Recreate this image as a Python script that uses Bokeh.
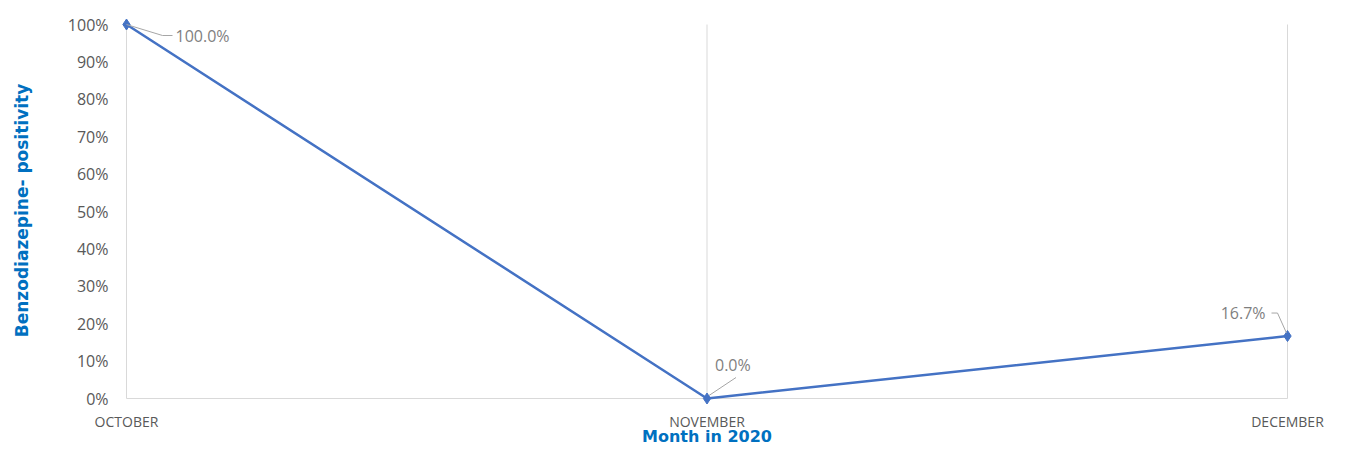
from bokeh.plotting import figure
from bokeh.models import Range1d, FixedTicker, ColumnDataSource
from bokeh.core.properties import value
from bokeh.embed import file_html
from bokeh.resources import INLINE

months = ["OCTOBER", "NOVEMBER", "DECEMBER"]
positivity = [1.0, 0.0, 0.167]
point_labels = ["100.0%", "0.0%", "16.7%"]
y_ticks = [i / 10 for i in range(11)]
y_tick_labels = [f"{i * 10}%" for i in range(11)]
x_title = "Month in 2020"
y_title = "Benzodiazepine- positivity"

xs = list(range(len(months)))

# pixel scales (style): px per data unit
PXX = 580.5
PXY = 374.0
px = 1 / PXX
py = 1 / PXY
PAD_L, PAD_R, PAD_T, PAD_B = 10, 10, 8, 6

p = figure(width=1339, height=448, output_backend="svg", toolbar_location=None,
           x_range=Range1d(xs[0] - PAD_L * px, xs[-1] + PAD_R * px),
           y_range=Range1d(0 - PAD_B * py, 1 + PAD_T * py),
           min_border_left=116, min_border_right=42, min_border_top=16, min_border_bottom=44)
p.outline_line_color = None
p.background_fill_color = "white"
p.xgrid.grid_line_color = None
p.ygrid.grid_line_color = None

grid_color = "#d9d9d9"
p.segment(x0=xs, y0=[0] * len(xs), x1=xs, y1=[1] * len(xs), line_color=grid_color, line_width=1)
p.segment(x0=[xs[0]], y0=[0], x1=[xs[-1]], y1=[0], line_color=grid_color, line_width=1)

# x axis
p.xaxis.ticker = FixedTicker(ticks=xs)
p.xaxis.major_label_overrides = {i: m for i, m in enumerate(months)}
p.xaxis.axis_line_color = None
p.xaxis.major_tick_line_color = None
p.xaxis.minor_tick_line_color = None
p.xaxis.major_label_text_font = "Open Sans"
p.xaxis.major_label_text_font_size = "14px"
p.xaxis.major_label_text_color = "#595959"
p.xaxis.major_label_standoff = 1
p.xaxis.axis_label = x_title
p.xaxis.axis_label_text_font = "DejaVu Sans"
p.xaxis.axis_label_text_font_style = "bold"
p.xaxis.axis_label_text_font_size = "16px"
p.xaxis.axis_label_text_color = "#0070C0"
p.xaxis.axis_label_standoff = -7

# y axis
p.yaxis.ticker = FixedTicker(ticks=y_ticks)
p.yaxis.major_label_overrides = {t: l for t, l in zip(y_ticks, y_tick_labels)}
p.yaxis.axis_line_color = None
p.yaxis.major_tick_line_color = None
p.yaxis.minor_tick_line_color = None
p.yaxis.major_label_text_font = "Open Sans"
p.yaxis.major_label_text_font_size = "16px"
p.yaxis.major_label_text_color = "#595959"
p.yaxis.major_label_standoff = 2
p.yaxis.axis_label = y_title
p.yaxis.axis_label_text_font = "DejaVu Sans"
p.yaxis.axis_label_text_font_style = "bold"
p.yaxis.axis_label_text_font_size = "17px"
p.yaxis.axis_label_text_color = "#0070C0"
p.yaxis.axis_label_standoff = 33

src = ColumnDataSource(dict(x=xs, y=positivity))
p.line("x", "y", source=src, line_color="#4472C4", line_width=2.5)
p.scatter("x", "y", source=src, marker="diamond", size=11, fill_color="#4472C4",
          line_color="#4472C4")

# leader lines (offsets relative to data points)
lead_color = "#a6a6a6"
p.segment(x0=[xs[0], xs[0] + 36 * px], y0=[positivity[0], positivity[0] - 11 * py],
          x1=[xs[0] + 36 * px, xs[0] + 46 * px], y1=[positivity[0] - 11 * py, positivity[0] - 11 * py],
          line_color=lead_color, line_width=1)
p.segment(x0=[xs[1] + 2 * px], y0=[positivity[1] + 3 * py],
          x1=[xs[1] + 29 * px], y1=[positivity[1] + 21 * py],
          line_color=lead_color, line_width=1)
p.segment(x0=[xs[2] - 16 * px, xs[2] - 10 * px], y0=[positivity[2] + 23 * py, positivity[2] + 23 * py],
          x1=[xs[2] - 10 * px, xs[2] - 1 * px], y1=[positivity[2] + 23 * py, positivity[2] + 3 * py],
          line_color=lead_color, line_width=1)

lab_style = dict(text_font=value("Open Sans"), text_font_size="16px", text_color="#7f7f7f",
                 text_baseline="middle")
p.text(x=[xs[0] + 49 * px], y=[positivity[0] - 11 * py], text=[point_labels[0]],
       text_align="left", **lab_style)
p.text(x=[xs[1] + 8 * px], y=[positivity[1] + 34 * py], text=[point_labels[1]],
       text_align="left", **lab_style)
p.text(x=[xs[2] - 22 * px], y=[positivity[2] + 23 * py], text=[point_labels[2]],
       text_align="right", **lab_style)

open("out.html", "w").write(file_html(p, INLINE))
